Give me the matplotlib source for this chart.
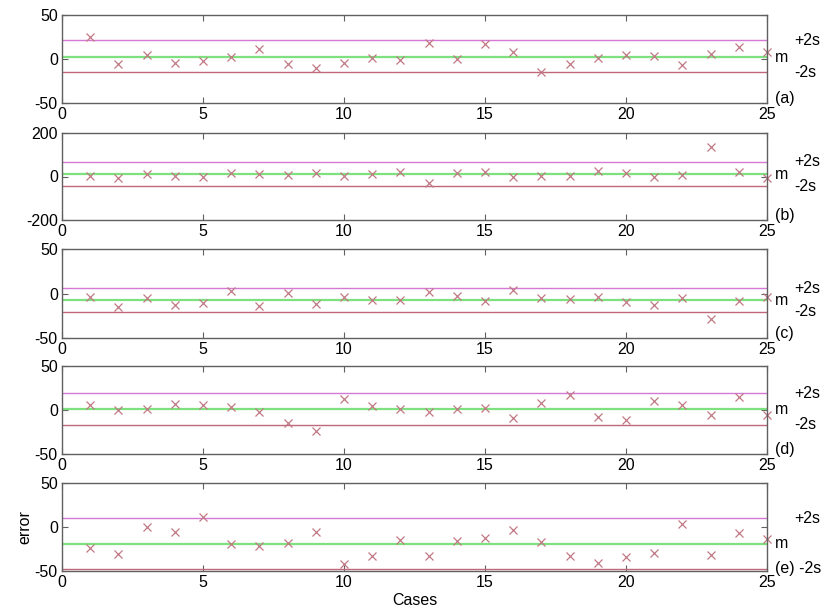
import matplotlib
matplotlib.use("Agg")
import matplotlib.pyplot as plt

plt.rcParams["font.family"] = ["Liberation Sans", "DejaVu Sans"]
plt.rcParams["axes.unicode_minus"] = False

# ---------------------------------------------
# DATA
# ---------------------------------------------
cases = list(range(1, 26))

err_a = [25.5, -5.5, 4.3, -4.7, -2.5, 2.0, 11.5, -5.5, -10.0, -4.3, 1.7, -1.0,
         18.0, 0.0, 16.8, 7.4, -14.5, -5.5, 1.7, 4.3, 3.2, -7.0, 5.5, 13.4, 8.5]
err_b = [1.5, -4.6, 10.8, 1.5, -1.5, 15.0, 12.0, 7.7, 15.0, 3.0, 12.0, 21.5,
         -31.0, 14.0, 20.0, -1.5, 1.5, 3.0, 23.0, 14.0, 0.0, 4.6, 135.0, 18.5, -4.6]
err_c = [-4.3, -15.7, -5.0, -12.6, -10.8, 2.8, -14.5, 0.2, -11.9, -4.0, -7.0, -7.7,
         1.3, -3.2, -8.5, 4.0, -5.0, -6.6, -4.0, -10.0, -12.6, -4.7, -28.9, -8.9, -4.3]
err_d = [5.3, 0.4, 1.5, 7.1, 6.0, 3.0, -1.9, -14.7, -23.3, 12.0, 4.9, 0.8,
         -2.6, 0.8, 2.6, -8.6, 7.9, 16.5, -8.3, -11.3, 9.8, 6.0, -6.0, 14.7, -6.0]
err_e = [-23.5, -30.3, 0.0, -5.3, 11.4, -19.7, -21.6, -18.6, -5.3, -41.7, -32.6, -14.8,
         -33.3, -15.5, -12.9, -3.4, -17.4, -32.6, -40.9, -34.5, -29.9, 3.4, -32.2, -6.8, -13.6]

# mean, +2s, -2s levels per panel
means  = [2.0, 10.8, -7.4, 1.1, -18.9]
upper  = [21.3, 68.0, 5.8, 18.8, 10.2]
lower  = [-15.0, -44.6, -20.6, -16.9, -47.3]
ylims  = [50, 200, 50, 50, 50]
tags   = ["(a)", "(b)", "(c)", "(d)", "(e)"]
series = [err_a, err_b, err_c, err_d, err_e]

# ---------------------------------------------
# STYLE
# ---------------------------------------------
C_MARK  = "#c07884"
C_UPPER = "#d47ad4"
C_MEAN  = "#7fe07f"
C_LOWER = "#c0687a"
C_FRAME = "#606060"
FS = 11.5

fig = plt.figure(figsize=(8.25, 6.16), dpi=100)

left, width = 62 / 825, (767 - 62) / 825
tops = [15, 133, 249, 366, 483]
heights = [88, 87, 89, 88, 88]

for i, (err, m, up, lo, lim, tag) in enumerate(
        zip(series, means, upper, lower, ylims, tags)):
    bottom = 1 - (tops[i] + heights[i]) / 616
    ax = fig.add_axes([left, bottom, width, heights[i] / 616])

    ax.axhline(up, color=C_UPPER, lw=1.0)
    ax.axhline(m, color=C_MEAN, lw=1.6)
    ax.axhline(lo, color=C_LOWER, lw=1.0)
    ax.plot(cases, err, "x", color=C_MARK, ms=5.5, mew=0.9, clip_on=False)

    ax.set_xlim(0, 25)
    ax.set_ylim(-lim, lim)
    ax.set_xticks([0, 5, 10, 15, 20, 25])
    ax.set_yticks([-lim, 0, lim])
    ax.tick_params(direction="in", top=True, right=True, length=4,
                   labelsize=FS, color=C_FRAME, pad=3)
    for s in ax.spines.values():
        s.set_color(C_FRAME)
        s.set_linewidth(1.0)

    trans = ax.get_yaxis_transform()
    ax.text(1.011, m, "m", transform=trans, fontsize=FS, va="center", ha="left")
    ax.text(1.039, up, "+2s", transform=trans, fontsize=FS, va="center", ha="left")
    if tag == "(e)":
        ax.text(1.011, lo, "(e) -2s", transform=trans, fontsize=FS,
                va="center", ha="left")
    else:
        ax.text(1.039, lo, "-2s", transform=trans, fontsize=FS, va="center", ha="left")
        ax.text(1.011, 0.05, tag, transform=ax.transAxes, fontsize=FS,
                va="center", ha="left")

    if i == 4:
        ax.set_xlabel("Cases", fontsize=FS, labelpad=2)
        ax.set_ylabel("error", fontsize=FS, labelpad=2)

fig.savefig("out.png", dpi=100)
